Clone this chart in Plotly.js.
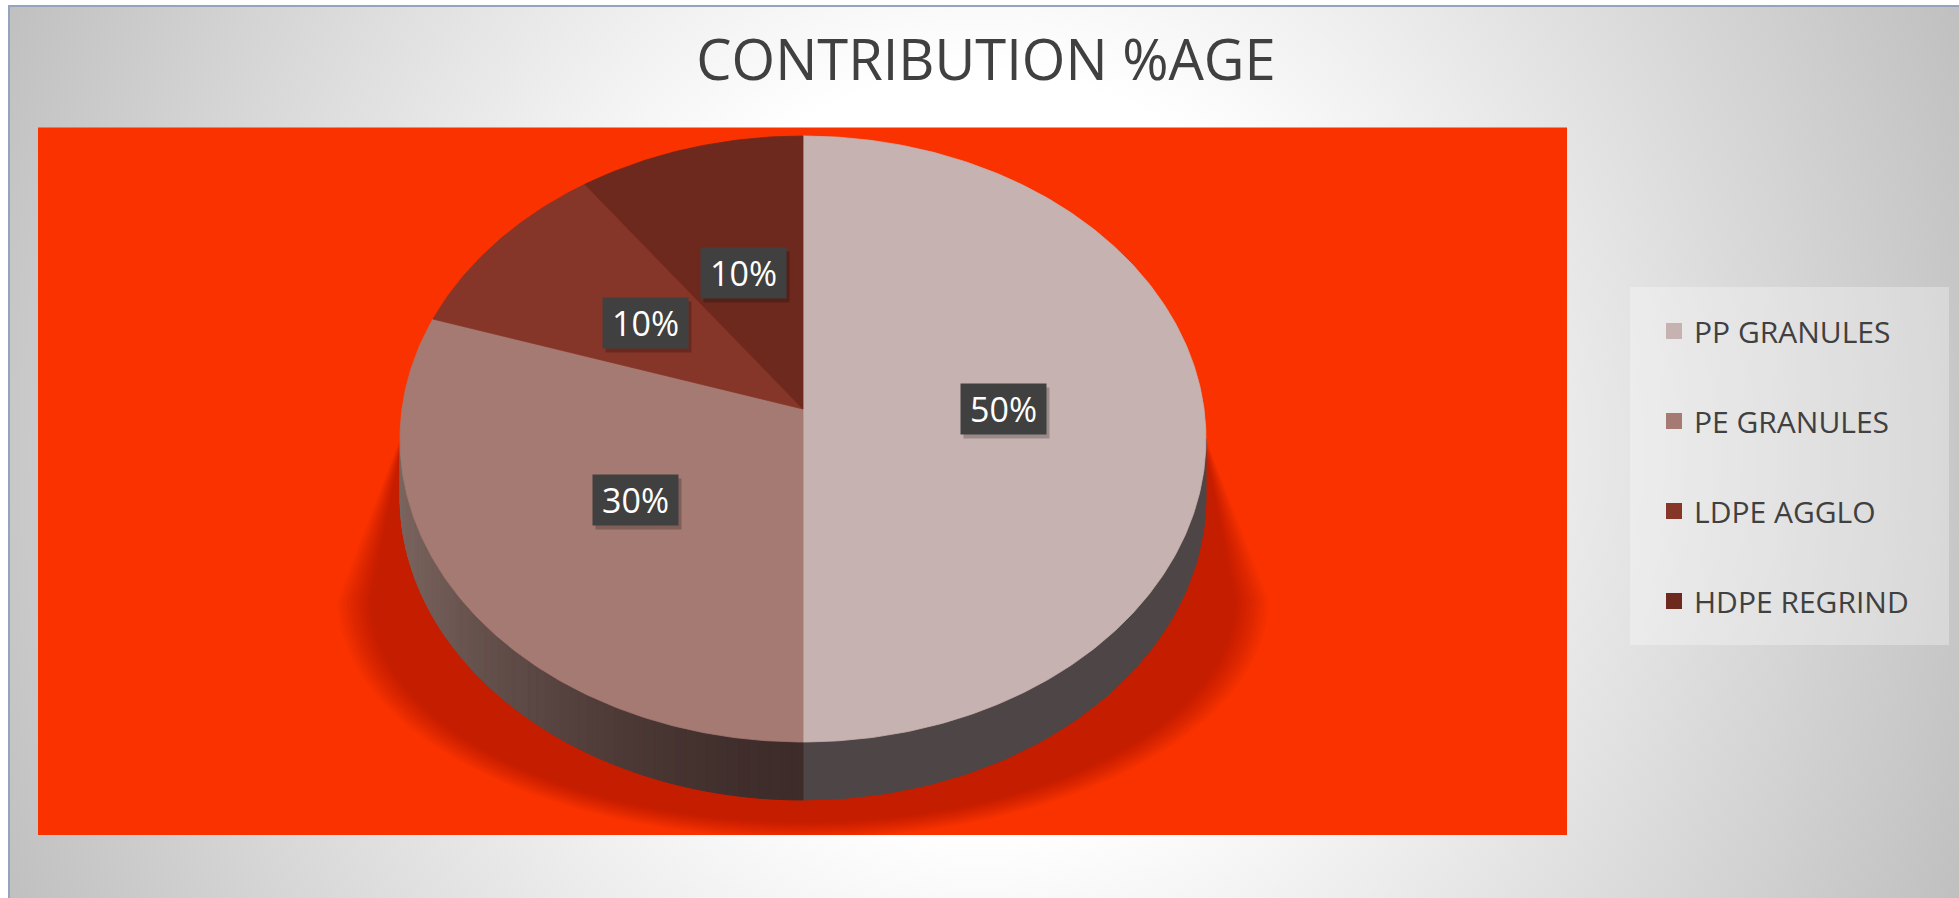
<!DOCTYPE html>
<html><head><meta charset="utf-8">
<script src="https://cdn.plot.ly/plotly-3.0.1.min.js"></script>
<style>
html,body{margin:0;padding:0;background:#fff;width:1959px;height:898px;overflow:hidden;}
#bg{position:absolute;left:8px;top:5px;width:1960px;height:900px;border-left:2px solid #94A4BF;border-top:2px solid #94A4BF;
 background:radial-gradient(ellipse 1175px 1257px at 972px 444px, #ffffff 0%, #ffffff 30%, #c0c0c0 90%, #bcbcbc 100%);}
#chart{position:absolute;left:0;top:0;width:1959px;height:898px;}
</style></head><body><div id="bg"></div><div id="chart"></div>
<script>
// ---- data ----
const categories = ["PP GRANULES", "PE GRANULES", "LDPE AGGLO", "HDPE REGRIND"];
const values = [50, 30, 10, 10];
const labels = ["50%", "30%", "10%", "10%"];
const colors = ["#C6B2B0", "#A57A72", "#863628", "#6E291E"];
const chartTitle = "CONTRIBUTION %AGE";

// ---- geometry / style (layout, not data) ----
// perspective-tilted disc: apex (CX, AY), half-width PA, half-depth PB, perspective K
const CX = 803, AY = 409, PA = 401, PB = 300, K = 0.099, DEPTH = 58;
const SH_CY = 600, SH_RX = 432, SH_RY = 222;
const LABEL_F = 0.5;
const FONT = "Open Sans, Noto Sans, sans-serif";

function proj(theta, r, dy) {
  const t = theta * Math.PI / 180, rr = (r === undefined ? 1 : r);
  const w = 1 + K * rr * Math.cos(t);
  return [CX + PA * rr * Math.sin(t) / w, AY + (dy || 0) - PB * rr * Math.cos(t) / w];
}
function ell(phi, rx, ry, cy) {
  const p = phi * Math.PI / 180;
  return [CX + rx * Math.sin(p), cy - ry * Math.cos(p)];
}
function hex2rgb(h){ return [parseInt(h.substr(1,2),16),parseInt(h.substr(3,2),16),parseInt(h.substr(5,2),16)]; }
function lerpColor(a,b,t){ const A=hex2rgb(a),B=hex2rgb(b); return 'rgb('+A.map((v,i)=>Math.round(v+(B[i]-v)*t)).join(',')+')'; }

const total = values.reduce((s,v)=>s+v,0);
const starts = [], ends = [];
let acc = 0;
values.forEach(v => { starts.push(acc/total*360); acc += v; ends.push(acc/total*360); });

const traces = [];

// soft shadow (many faint layers)
for (let j = 11; j >= 0; j--) {
  const g = j * 3;
  const xs=[], ys=[];
  for (let k=0;k<=90;k++){ const p=ell(90+180*k/90,SH_RX+g,SH_RY+g*0.5,SH_CY); xs.push(p[0]); ys.push(p[1]); }
  xs.push(CX-PA+4); ys.push(AY+15);
  xs.push(CX); ys.push(AY+30);
  xs.push(CX+PA-4); ys.push(AY+15);
  xs.push(xs[0]); ys.push(ys[0]);
  traces.push({type:'scatter',mode:'lines',x:xs,y:ys,fill:'toself',fillcolor:'rgba(90,10,0,0.03)',
    line:{width:0,color:'rgba(0,0,0,0)'},hoverinfo:'skip',showlegend:false});
}

// side walls (visible front part)
const V0 = Math.acos(-K)*180/Math.PI, V1 = 360 - V0; // ~95.7 .. 264.3
const sideBase = ["#4E4646", null, "#5A3A32", "#4A2A22"];
values.forEach((v,i) => {
  const a0 = Math.max(starts[i],V0), a1 = Math.min(ends[i],V1);
  if (a1 <= a0) return;
  const nStrips = i === 1 ? 60 : 1;
  for (let s=0;s<nStrips;s++){
    const b0 = a0 + (a1-a0)*s/nStrips, b1 = a0 + (a1-a0)*(s+1)/nStrips;
    const xs=[], ys=[];
    const n = i === 1 ? 4 : 60;
    for (let k=0;k<=n;k++){ const p=proj(b0+(b1-b0)*k/n); xs.push(p[0]); ys.push(p[1]); }
    for (let k=n;k>=0;k--){ const p=proj(b0+(b1-b0)*k/n, 1, DEPTH); xs.push(p[0]); ys.push(p[1]); }
    xs.push(xs[0]); ys.push(ys[0]);
    let col;
    if (i === 1) { const mid=(b0+b1)/2; const t = Math.min(1, -Math.sin(mid*Math.PI/180)); col = lerpColor("#3E2C2A","#7C6660",Math.pow(t,1.6)); }
    else col = sideBase[i];
    traces.push({type:'scatter',mode:'lines',x:xs,y:ys,fill:'toself',fillcolor:col,
      line:{width:1,color:col},hoverinfo:'skip',showlegend:false});
  }
});

// top faces
values.forEach((v,i) => {
  const xs=[CX], ys=[AY];
  const n = Math.max(8, Math.round((ends[i]-starts[i])*1.5));
  for (let k=0;k<=n;k++){ const p=proj(starts[i]+(ends[i]-starts[i])*k/n); xs.push(p[0]); ys.push(p[1]); }
  xs.push(CX); ys.push(AY);
  traces.push({type:'scatter',mode:'lines',x:xs,y:ys,fill:'toself',fillcolor:colors[i],
    line:{width:0.8,color:colors[i]},name:categories[i],hoverinfo:'name',showlegend:false});
});

// legend entries
categories.forEach((c,i) => {
  traces.push({type:'scatter',mode:'markers',x:[null],y:[null],name:c,legendgroup:'g'+i,
    marker:{symbol:'square',size:16,color:colors[i],line:{width:0}},showlegend:true});
});

// labels
const annotations = [];
values.forEach((v,i) => {
  const mid = (starts[i]+ends[i])/2;
  const p = proj(mid, LABEL_F);
  annotations.push({x:p[0],y:p[1],xref:'x',yref:'y',text:'',showarrow:false,width:73,height:38,borderpad:6,
    bgcolor:'rgba(0,0,0,0.22)',xshift:3,yshift:-4});
  annotations.push({x:p[0],y:p[1],xref:'x',yref:'y',text:labels[i],showarrow:false,width:73,height:38,borderpad:6,
    bgcolor:'#404040',font:{family:FONT,size:34,color:'#ffffff'}});
});

const layout = {
  width:1959, height:898,
  margin:{l:0,r:0,t:0,b:0},
  paper_bgcolor:'rgba(0,0,0,0)',
  plot_bgcolor:'#F93200',
  title:{text:chartTitle,font:{family:FONT,size:56,color:'#404040'},x:986/1959,xanchor:'center',y:1-60/898,yanchor:'middle',yref:'container'},
  xaxis:{domain:[38/1959,1567/1959],range:[38,1567],visible:false,fixedrange:true},
  yaxis:{domain:[(898-835)/898,(898-127.5)/898],range:[835,127.5],visible:false,fixedrange:true},
  showlegend:true,
  legend:{x:1654/1959,y:(898-305)/898,xanchor:'left',yanchor:'top',bgcolor:'rgba(0,0,0,0)',
    font:{family:FONT,size:30,color:'#404040'},tracegroupgap:48,traceorder:'grouped',itemclick:false,itemdoubleclick:false},
  shapes:[{type:'rect',xref:'paper',yref:'paper',x0:1630/1959,x1:1949/1959,y0:(898-645)/898,y1:(898-287)/898,
    fillcolor:'rgba(255,255,255,0.3)',line:{width:0},layer:'below'}],
  annotations:annotations,
  hovermode:'closest'
};

Plotly.newPlot('chart', traces, layout, {displayModeBar:false});
</script>
</body></html>
